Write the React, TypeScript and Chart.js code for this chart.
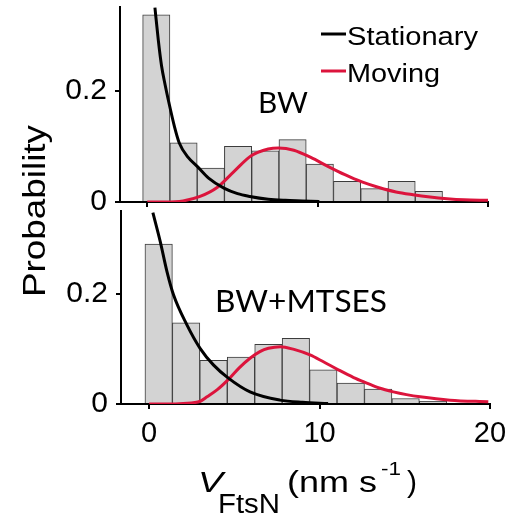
import React, { useEffect, useRef } from 'react';
import { Chart, registerables } from 'chart.js';

Chart.register(...registerables);

// ---------- data ----------
const xTicks = [0, 10, 20];
const yTicks = [0, 0.2];

// BW panel (histogram bin centres and probabilities)
const binCentersBW = [0.53, 2.13, 3.73, 5.33, 6.93, 8.53, 10.13, 11.73, 13.33, 14.93, 16.53];
const probBW = [0.336, 0.106, 0.061, 0.1, 0.092, 0.112, 0.068, 0.037, 0.024, 0.037, 0.019];
const stationaryBW_X = [0.45, 0.65, 0.84, 1.05, 1.23, 1.6, 1.88, 2.4, 2.93, 3.6, 4.5, 5.3, 6.02, 7.1, 8.1, 9.1, 10.1];
const stationaryBW_Y = [0.349, 0.29, 0.244, 0.21, 0.184, 0.135, 0.106, 0.08, 0.064, 0.043, 0.025, 0.015, 0.01, 0.005, 0.003, 0.002, 0.001];
const movingBW_X = [0, 1.1, 2.1, 3.1, 4.1, 5.1, 6.1, 7.1, 7.7, 8.6, 9.6, 10.6, 11.6, 12.6, 13.6, 14.6, 15.6, 16.6, 17.6, 18.6, 20];
const movingBW_Y = [0, 0, 0.002, 0.01, 0.026, 0.055, 0.083, 0.095, 0.097, 0.093, 0.08, 0.064, 0.049, 0.036, 0.026, 0.018, 0.013, 0.009, 0.006, 0.004, 0.003];

// BW+MTSES panel
const binCentersMT = [0.56, 2.17, 3.78, 5.39, 7.0, 8.61, 10.22, 11.83, 13.44, 15.05, 16.66];
const probMT = [0.29, 0.147, 0.079, 0.085, 0.108, 0.119, 0.062, 0.038, 0.027, 0.01, 0.005];
const stationaryMT_X = [0.22, 0.65, 1.04, 1.43, 2.21, 2.99, 3.77, 4.65, 5.92, 7.68, 9.0, 10.5];
const stationaryMT_Y = [0.347, 0.295, 0.241, 0.198, 0.144, 0.101, 0.071, 0.047, 0.022, 0.007, 0.003, 0.001];
const movingMT_X = [0, 1.0, 2.0, 3.0, 3.4, 4.0, 4.7, 5.3, 5.92, 6.5, 7.0, 7.7, 8.5, 9.44, 10.2, 11.1, 12.0, 12.77, 13.5, 14.33, 15.1, 15.9, 17.65, 19.9];
const movingMT_Y = [0, 0, 0.001, 0.005, 0.013, 0.026, 0.046, 0.066, 0.083, 0.095, 0.101, 0.104, 0.099, 0.089, 0.077, 0.062, 0.048, 0.038, 0.029, 0.022, 0.017, 0.013, 0.007, 0.004];

const legendLabels = ['Stationary', 'Moving'];
const panelLabels = ['BW', 'BW+MTSES'];

// ---------- styles ----------
const W = 508;
const H = 523;
const SANS = '"Liberation Sans", Arial, sans-serif';
const CAL = 'Lato, "Open Sans", sans-serif';
const RED = '#DC143C';

function fitText(ctx: CanvasRenderingContext2D, text: string, left: number, baseline: number, width: number, font: string) {
  ctx.save();
  ctx.font = font;
  const w = ctx.measureText(text).width;
  ctx.translate(left, baseline);
  ctx.scale(width / w, 1);
  ctx.textAlign = 'left';
  ctx.textBaseline = 'alphabetic';
  ctx.fillStyle = '#000';
  ctx.fillText(text, 0, 0);
  ctx.restore();
}

const topTextPlugin = {
  id: 'topText',
  afterDraw(chart: any) {
    const ctx = chart.ctx as CanvasRenderingContext2D;
    fitText(ctx, panelLabels[0], 258, 113, 50, '29px ' + CAL);
    // legend
    ctx.save();
    ctx.lineWidth = 3;
    ctx.strokeStyle = '#000';
    ctx.beginPath();
    ctx.moveTo(321, 34);
    ctx.lineTo(346, 34);
    ctx.stroke();
    ctx.strokeStyle = RED;
    ctx.beginPath();
    ctx.moveTo(321, 71);
    ctx.lineTo(346, 71);
    ctx.stroke();
    ctx.restore();
    fitText(ctx, legendLabels[0], 347, 45, 131, '25px ' + SANS);
    fitText(ctx, legendLabels[1], 347, 81.5, 93, '25px ' + SANS);
  },
};

const bottomTextPlugin = {
  id: 'bottomText',
  afterDraw(chart: any) {
    const ctx = chart.ctx as CanvasRenderingContext2D;
    fitText(ctx, panelLabels[1], 215, 312, 172, '30px ' + CAL);
    // y title
    ctx.save();
    ctx.font = '32px ' + SANS;
    const t = 'Probability';
    const w = ctx.measureText(t).width;
    ctx.translate(45, 297);
    ctx.rotate(-Math.PI / 2);
    ctx.scale(172 / w, 1);
    ctx.fillStyle = '#000';
    ctx.textAlign = 'left';
    ctx.textBaseline = 'alphabetic';
    ctx.fillText(t, 0, 0);
    ctx.restore();
    // x title
    fitText(ctx, 'V', 198, 492, 25, 'italic 30px ' + SANS);
    fitText(ctx, 'FtsN', 218, 513, 62, '27px ' + SANS);
    fitText(ctx, '(nm s', 287, 492, 90, '29px ' + SANS);
    fitText(ctx, '-1', 381, 475, 20, '18px ' + SANS);
    fitText(ctx, ')', 407, 492, 10, '29px ' + SANS);
  },
};

function pts(xs: number[], ys: number[]) {
  return xs.map((x, i) => ({ x, y: ys[i] }));
}

function buildConfig(p: {
  centers: number[]; probs: number[];
  sX: number[]; sY: number[]; mX: number[]; mY: number[];
  xMin: number; padding: any; yWidth: number; xHeight: number; showX: boolean; plugin: any;
}): any {
  return {
    type: 'bar',
    data: {
      datasets: [
        {
          type: 'line', data: pts(p.sX, p.sY), borderColor: '#000', borderWidth: 3,
          pointRadius: 0, cubicInterpolationMode: 'monotone', order: 1,
        },
        {
          type: 'line', data: pts(p.mX, p.mY), borderColor: RED, borderWidth: 3,
          pointRadius: 0, cubicInterpolationMode: 'monotone', order: 2,
        },
        {
          type: 'bar', data: pts(p.centers, p.probs), backgroundColor: '#D3D3D3',
          borderColor: '#3C3C3C', borderWidth: 1, barPercentage: 1, categoryPercentage: 1, order: 3,
        },
      ],
    },
    options: {
      responsive: false,
      animation: false,
      devicePixelRatio: 1,
      layout: { padding: p.padding },
      plugins: { legend: { display: false }, tooltip: { enabled: false }, title: { display: false } },
      scales: {
        x: {
          type: 'linear', min: p.xMin, max: 20, offset: false,
          afterBuildTicks: (s: any) => { s.ticks = xTicks.map((v) => ({ value: v })); },
          afterFit: (s: any) => { s.height = p.xHeight; s.paddingLeft = 0; s.paddingRight = 0; },
          grid: { drawOnChartArea: false, drawTicks: true, tickLength: 5, color: '#000', lineWidth: 2, offset: false },
          border: { display: true, color: '#000', width: 2 },
          ticks: { display: p.showX, font: { family: SANS, size: 29 }, color: '#000', padding: 8, maxRotation: 0, autoSkip: false },
        },
        y: {
          min: 0, max: 0.35,
          afterBuildTicks: (s: any) => { s.ticks = yTicks.map((v) => ({ value: v })); },
          afterFit: (s: any) => { s.width = p.yWidth; s.paddingTop = 0; s.paddingBottom = 0; },
          grid: { drawOnChartArea: false, drawTicks: true, tickLength: 5, color: '#000', lineWidth: 2 },
          border: { display: true, color: '#000', width: 2 },
          ticks: { font: { family: SANS, size: 30 }, color: '#000', padding: 8, callback: (v: number) => (v === 0 ? '0' : String(v)) },
        },
      },
    },
    plugins: [p.plugin],
  };
}

export default function App() {
  const topRef = useRef<HTMLCanvasElement>(null);
  const botRef = useRef<HTMLCanvasElement>(null);

  useEffect(() => {
    const top = new Chart(topRef.current as HTMLCanvasElement, buildConfig({
      centers: binCentersBW, probs: probBW,
      sX: stationaryBW_X, sY: stationaryBW_Y, mX: movingBW_X, mY: movingBW_Y,
      xMin: -1.6, padding: { left: 0, top: 7, right: 20, bottom: H - 202 - 6 },
      yWidth: 120, xHeight: 6, showX: false, plugin: topTextPlugin,
    }));
    const bot = new Chart(botRef.current as HTMLCanvasElement, buildConfig({
      centers: binCentersMT, probs: probMT,
      sX: stationaryMT_X, sY: stationaryMT_Y, mX: movingMT_X, mY: movingMT_Y,
      xMin: -1.65, padding: { left: 0, top: 211, right: 18, bottom: H - 404 - 60 },
      yWidth: 121, xHeight: 60, showX: true, plugin: bottomTextPlugin,
    }));
    return () => { top.destroy(); bot.destroy(); };
  }, []);

  const cs: React.CSSProperties = { position: 'absolute', left: 0, top: 0, width: W, height: H, display: 'block' };
  return (
    <div style={{ position: 'absolute', left: 0, top: 0, width: W, height: H, background: '#fff' }}>
      <canvas ref={botRef} width={W} height={H} style={cs} />
      <canvas ref={topRef} width={W} height={H} style={cs} />
    </div>
  );
}
